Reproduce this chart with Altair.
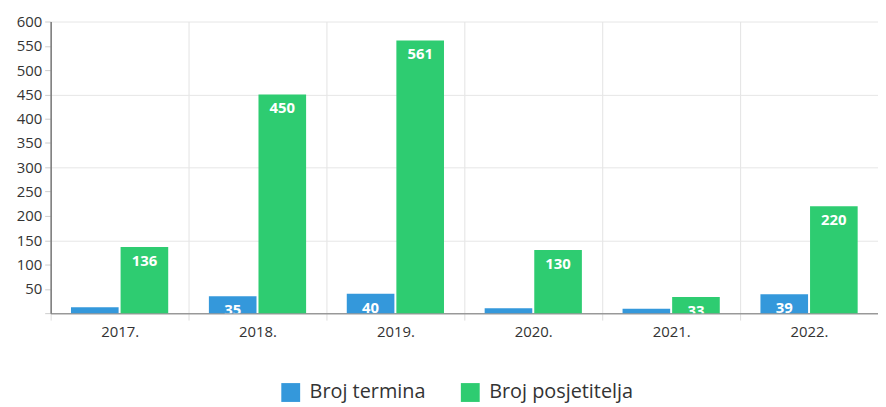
import altair as alt
import pandas as pd

years = ["2017.", "2018.", "2019.", "2020.", "2021.", "2022."]
series = ["Broj termina", "Broj posjetitelja"]
termina = [12, 35, 40, 10, 9, 39]
posjetitelja = [136, 450, 561, 130, 33, 220]
colors = ["#3498db", "#2ecc71"]
y_ticks = list(range(0, 601, 50))

rows = []
for i, y in enumerate(years):
    rows.append({"year": y, "series": series[0], "value": termina[i]})
    rows.append({"year": y, "series": series[1], "value": posjetitelja[i]})
df = pd.DataFrame(rows)

FONT = "Open Sans"

x = alt.X("year:N", sort=years, title=None,
          scale=alt.Scale(paddingInner=0, paddingOuter=0),
          axis=alt.Axis(labelAngle=0, labelFontSize=15, labelColor="#333333",
                        labelFont=FONT, labelPadding=5,
                        tickBand="extent", grid=True, gridColor="#e3e3e3",
                        tickColor="#dddddd", tickSize=7, domainColor="#999999",
                        domainWidth=1.5))
xo = alt.XOffset("series:N", sort=series,
                 scale=alt.Scale(paddingInner=0.04, paddingOuter=0.41))
y = alt.Y("value:Q", title=None,
          scale=alt.Scale(domain=[0, 600], nice=False),
          axis=alt.Axis(values=y_ticks, labelFontSize=15, labelColor="#333333",
                        labelFont=FONT, labelExpr="datum.value == 0 ? '' : datum.label",
                        tickColor="#cccccc", tickSize=6, labelPadding=3,
                        domainColor="#777777", domainWidth=1.5,
                        grid=True, gridColor="#e6e6e6",
                        gridOpacity={"condition": {"test": "datum.value % 150 === 0 && datum.value > 0", "value": 1}, "value": 0}))
color = alt.Color("series:N", sort=series,
                  scale=alt.Scale(domain=series, range=colors),
                  legend=alt.Legend(title=None, orient="none", direction="horizontal",
                                    legendX=232, legendY=364,
                                    symbolType="square", symbolSize=361,
                                    symbolStrokeWidth=0, symbolOpacity=1,
                                    labelFontSize=20, labelColor="#333333",
                                    labelFont=FONT, columnPadding=35, labelOffset=9))

base = alt.Chart(df)
bars = base.mark_bar().encode(x=x, xOffset=xo, y=y, color=color)
labels = base.transform_filter("datum.value > 20").mark_text(
    dy=14, baseline="middle", align="center", color="white",
    fontWeight="bold", fontSize=15, font=FONT, clip=True
).encode(x=x, xOffset=xo, y=y, text=alt.Text("value:Q"))

chart = alt.layer(bars, labels).properties(
    width=834, height=294,
    autosize=alt.AutoSizeParams(type="none"),
    padding={"left": 43, "top": 12, "right": 0, "bottom": 93},
).configure_view(stroke=None)

chart.save("out.html", embed_options={"renderer": "svg", "actions": False})
